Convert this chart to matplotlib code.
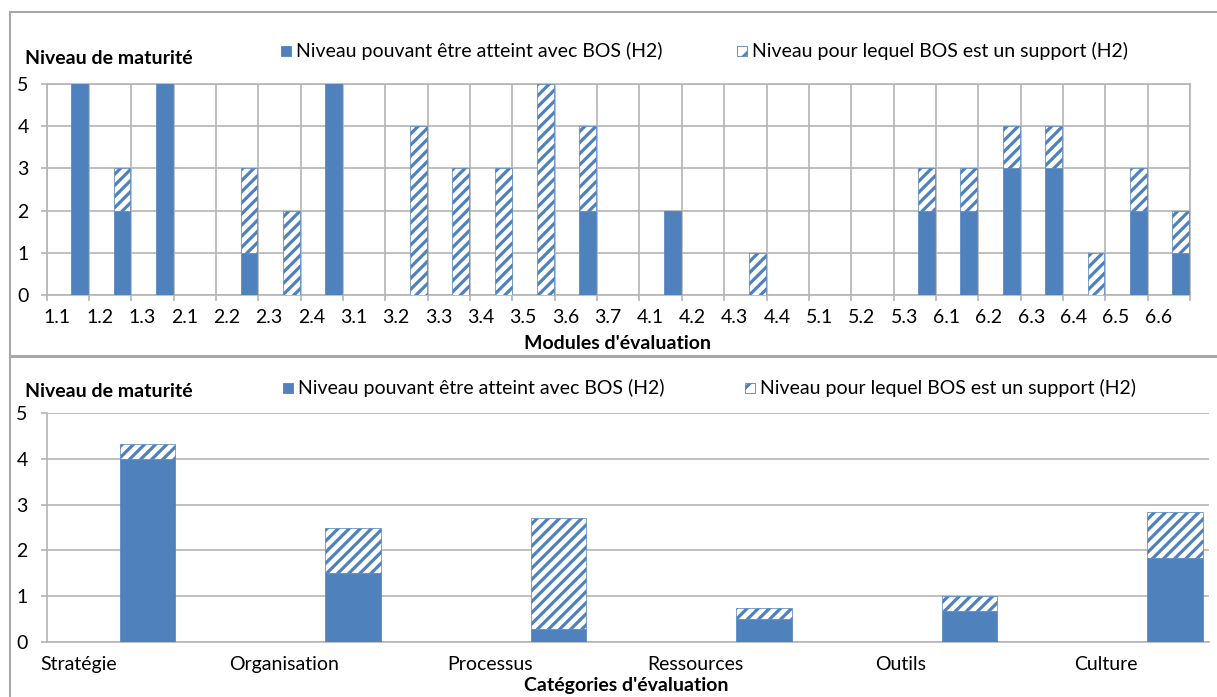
# Maturity levels per module and per category (BOS, H2)
import numpy as np
import matplotlib.pyplot as plt
from matplotlib.patches import Rectangle

plt.rcParams['font.family'] = ['Lato', 'DejaVu Sans']
plt.rcParams['hatch.linewidth'] = 2.3

# data
modules = ['1.1', '1.2', '1.3', '2.1', '2.2', '2.3', '2.4', '3.1', '3.2', '3.3',
           '3.4', '3.5', '3.6', '3.7', '4.1', '4.2', '4.3', '4.4', '5.1', '5.2',
           '5.3', '6.1', '6.2', '6.3', '6.4', '6.5', '6.6']
modules_solid = [5, 2, 5, 0, 1, 0, 5, 0, 0, 0, 0, 0, 2, 0, 2, 0, 0, 0, 0, 0,
                 2, 2, 3, 3, 0, 2, 1]
modules_hatch = [0, 1, 0, 0, 2, 2, 0, 0, 4, 3, 3, 5, 2, 0, 0, 0, 1, 0, 0, 0,
                 1, 1, 1, 1, 1, 1, 1]

categories = ['Stratégie', 'Organisation', 'Processus', 'Ressources', 'Outils', 'Culture']
cat_solid = [4.0, 1.5, 0.29, 0.5, 0.67, 1.83]
cat_hatch = [0.33, 1.0, 2.42, 0.25, 0.33, 1.0]

label_solid = 'Niveau pouvant être atteint avec BOS (H2)'
label_hatch = 'Niveau pour lequel BOS est un support (H2)'

blue = '#4F81BD'
grid_c = '#B4B4B4'
W, H = 1217, 697
fs = 14

fig = plt.figure(figsize=(12.17, 6.97), dpi=100)

# chart frames
for (x0, y0, x1, y1) in [(10, 12, 1230, 356), (10, 357, 1230, 710)]:
    fig.patches.append(Rectangle((x0 / W, 1 - y1 / H), (x1 - x0) / W, (y1 - y0) / H,
                                 transform=fig.transFigure, fill=False,
                                 edgecolor='#A8A8A8', lw=1.5, zorder=0))

# ---- top chart: modules
ax1 = fig.add_axes([46.6 / W, 1 - 295 / H, (1190 - 46.6) / W, (295 - 84) / H])
x = np.arange(len(modules))
ax1.bar(x + 0.78, modules_solid, width=0.4, color=blue, edgecolor=blue, lw=0.5, zorder=3)
ax1.bar(x + 0.78, modules_hatch, width=0.4, bottom=modules_solid, color='white',
        edgecolor=blue, hatch='///', lw=0.5, zorder=3)
ax1.set_xlim(0, len(modules))
ax1.set_ylim(0, 5)
ax1.set_xticks(x + 0.25)
ax1.set_xticklabels(modules, fontsize=fs)
ax1.set_xticks(np.arange(len(modules) + 1), minor=True)
ax1.tick_params(axis='x', which='major', length=0, pad=10)
ax1.tick_params(axis='x', which='minor', length=4, color=grid_c, width=1.2)
ax1.set_yticks(range(6))
ax1.tick_params(axis='y', length=4, color=grid_c, width=1.2, pad=9, labelsize=fs)
ax1.grid(True, which='minor', axis='x', color=grid_c, lw=1.2)
ax1.grid(True, which='major', axis='y', color=grid_c, lw=1.2)
ax1.set_axisbelow(True)
for s in ax1.spines.values():
    s.set_color(grid_c)
    s.set_linewidth(1.2)

fig.text(25 / W, 1 - 58 / H, 'Niveau de maturité', fontsize=fs, fontweight='bold', va='center')
fig.text(618 / W, 1 - 343 / H, "Modules d'évaluation", fontsize=fs, fontweight='bold',
         ha='center', va='center')

# ---- bottom chart: categories
ax2 = fig.add_axes([47 / W, 1 - 642 / H, (1209 - 47) / W, (642 - 413) / H])
xc = np.arange(len(categories))
ax2.bar(xc, cat_solid, width=0.27, color=blue, edgecolor=blue, lw=0.5, zorder=3)
ax2.bar(xc, cat_hatch, width=0.27, bottom=cat_solid, color='white',
        edgecolor=blue, hatch='///', lw=0.5, zorder=3)
ax2.set_xlim(-0.49, 5.165)
ax2.set_ylim(0, 5)
ax2.set_xticks(xc - 0.336)
ax2.set_xticklabels(categories, fontsize=fs)
ax2.tick_params(axis='x', length=0, pad=10)
ax2.set_yticks(range(6))
ax2.tick_params(axis='y', length=4, color=grid_c, width=1.2, pad=10, labelsize=fs)
ax2.grid(True, axis='y', color=grid_c, lw=1.2)
ax2.set_axisbelow(True)
ax2.spines['top'].set_visible(False)
ax2.spines['right'].set_visible(False)
for s in ['left', 'bottom']:
    ax2.spines[s].set_color(grid_c)
    ax2.spines[s].set_linewidth(1.2)

fig.text(25 / W, 1 - 391 / H, 'Niveau de maturité', fontsize=fs, fontweight='bold', va='center')
fig.text(626 / W, 1 - 686 / H, "Catégories d'évaluation", fontsize=fs, fontweight='bold',
         ha='center', va='center')

# legends (drawn by hand to place them like the original)
def legend_item(px, py, text, hatched):
    sq = 10
    fig.patches.append(Rectangle((px / W, 1 - (py + sq / 2) / H), sq / W, sq / H,
                                 transform=fig.transFigure,
                                 facecolor='white' if hatched else blue,
                                 edgecolor=blue, hatch='/' if hatched else None, lw=0.6))
    fig.text((px + 15) / W, 1 - py / H, text, fontsize=fs, va='center')

legend_item(281, 51, label_solid, False)
legend_item(737, 51, label_hatch, True)
legend_item(283, 388, label_solid, False)
legend_item(745, 388, label_hatch, True)

fig.savefig('out.png', dpi=100, facecolor='white')
